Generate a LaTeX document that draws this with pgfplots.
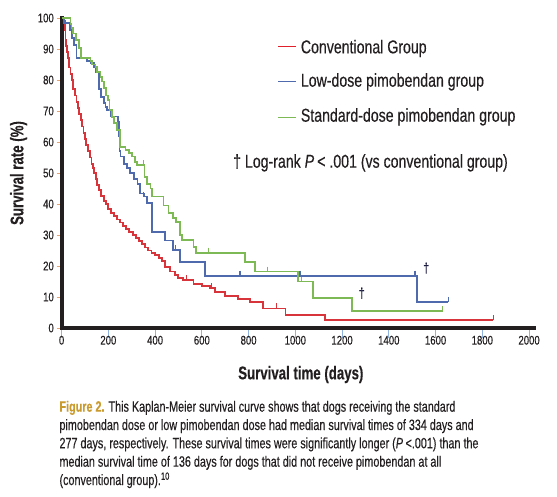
\documentclass[border=0pt]{standalone}
\usepackage{pgfplots}
\pgfplotsset{compat=1.18}
\usepackage{fontspec}
\setmainfont{Liberation Sans}[FakeStretch=0.76, FakeBold=0.35]
\newfontfamily\condb{Liberation Sans}[FakeStretch=0.72, FakeBold=0.35]
\definecolor{cred}{HTML}{D8343C}
\definecolor{lred}{HTML}{E0202A}
\definecolor{cblue}{HTML}{4F6AAD}
\definecolor{cgreen}{HTML}{7DBA55}
\definecolor{gold}{HTML}{C99A2E}
\definecolor{txt}{HTML}{231F20}
\definecolor{tickblue}{HTML}{8FB4E0}
\definecolor{tickorange}{HTML}{E8A26A}
\definecolor{dag}{HTML}{1A1A40}
\begin{document}
\begin{tikzpicture}[x=1pt,y=1pt]
\useasboundingbox (0,0) rectangle (557,496);
\begin{axis}[
  at={(61.6pt,168pt)}, anchor=origin,
  scale only axis, width=472.4pt, height=310pt,
  xmin=0, xmax=2021, ymin=0, ymax=100,
  axis x line=bottom, axis y line=left,
  axis line style={-, line width=4pt, draw=txt, line cap=rect},
  every outer x axis line/.append style={line width=4pt},
  every outer y axis line/.append style={line width=4pt},
  xtick={0,200,...,2000}, ytick={0,10,...,100},
  tick align=outside,
  x tick style={draw=tickblue, line width=0.8pt, /pgfplots/major tick length=10pt},
  y tick style={draw=tickorange, line width=0.6pt, /pgfplots/major tick length=5pt},
  tick label style={font=\fontsize{12.6}{14}\selectfont, text=txt},
  /pgf/number format/assume math mode=true,
  /pgf/number format/1000 sep={},
  xlabel={Survival time (days)},
  ylabel={Survival rate (\%)},
  xlabel style={font=\condb\bfseries\fontsize{18.4}{20}\selectfont, text=txt, at={(axis description cs:0.5064,-0.1655)}, anchor=base},
  ylabel style={font=\condb\bfseries\fontsize{18.4}{20}\selectfont, text=txt, at={(axis description cs:-0.081,0.5)}, anchor=base},
  clip=false,
  every axis plot/.append style={line width=1.8pt, line join=miter},
]
% Conventional group
\addplot[cred, const plot] coordinates {
(0,100) (10,99) (14,96) (17,93) (20,91) (24,89) (28,87) (33,84) (38,82) (43,80) (50,77) (57,75) (64,73) (70,71) (76,69) (82,67) (88,65) (94,63) (100,61) (106,59) (112,57) (120,55) (128,53) (134,51.5) (140,50) (146,48) (153,46) (160,44.5) (170,42.5) (180,41) (190,40) (200,38.5) (212,37) (225,36) (238,35) (250,34) (262,33) (275,32) (290,31) (305,30) (318,29) (332,28) (345,27) (358,26) (368,25) (385,24.3) (400,23.5) (415,22.5) (428,21.5) (442,19.8) (464,18.2) (485,17.1) (499,16.2) (521,15.5) (564,14.1) (600,13.6) (635,12.8) (656,11.7) (699,10.4) (756,9.3) (806,8.5) (860,6.3) (958,4.2) (1127,2.5) (1847,2.5)};
% Low-dose
\addplot[cblue, const plot] coordinates {
(0,100) (10,98.4) (35,96) (45,93.5) (54,91.4) (64,87) (107,86) (124,85.4) (140,84) (145,82.7) (159,77) (170,74.5) (180,72.5) (188,71.4) (195,70.3) (209,68.2) (240,66.5) (245,62) (248,57) (252,55.3) (266,53) (280,51.5) (294,50) (310,48) (325,46.5) (337,43.4) (355,42.4) (365,40.2) (387,31) (443,28.2) (475,25.2) (507,21.4) (614,16.9) (1519,8.4) (1655,8.4)};
% Standard-dose
\addplot[cgreen, const plot] coordinates {
(0,100) (35,100) (38,98) (42,96.8) (50,95) (62,93) (73,90.3) (83,87) (124,86) (131,85) (145,84.3) (152,82.7) (166,81) (174,79.5) (182,77.3) (190,75) (197,73.5) (205,70.3) (215,68) (223,66) (237,63.9) (250,58.5) (273,57.4) (290,56.5) (301,55.3) (315,53.5) (323,52.6) (355,48.8) (365,46.5) (380,45) (387,42.4) (436,39.5) (457,37) (475,35.4) (490,34.3) (507,30) (515,28.4) (564,26.2) (575,24.3) (785,21.2) (827,18.2) (1013,15) (1074,9.8) (1244,5.4) (1631,5.4)};
% censored marks
\addplot[cred, only marks, mark=|, mark size=2.5pt, mark options={line width=1.3pt, yshift=2.5pt}] coordinates {(535,15.5) (642,12.8) (920,6.3) (1847,2.5)};
\addplot[cblue, only marks, mark=|, mark size=2.5pt, mark options={line width=1.3pt, yshift=2.5pt}] coordinates {(351,42.4) (443,28.2) (486,25.2) (763,16.9) (1020,16.9) (1512,16.9) (1655,8.4)};
\addplot[cgreen, only marks, mark=|, mark size=2.5pt, mark options={line width=1.3pt, yshift=2.5pt}] coordinates {(351,52.6) (628,24.3) (880,18.2) (1027,15) (1631,5.4)};
\node[text=dag, font=\fontsize{14}{14}\selectfont] at (axis cs:1560,19.3) {†};
\node[text=dag, font=\fontsize{14}{14}\selectfont] at (axis cs:1284,11.2) {†};
\end{axis}
% legend
\draw[lred, line width=1.4pt] (278.3,449.3) -- (296,449.3);
\draw[cblue, line width=1.4pt] (278.3,414.3) -- (296,414.3);
\draw[cgreen, line width=1.4pt] (278.3,378.3) -- (296,378.3);
\begin{scope}[every node/.style={inner sep=0pt, anchor=base west, text=txt, font=\fontsize{18.6}{20}\selectfont}]
\node at (300.7,442.7) {Conventional Group};
\node at (300.7,409.3) {Low-dose pimobendan group};
\node at (300.7,374.3) {Standard-dose pimobendan group};
\node at (233,328.3) {† Log-rank \textit{P}\,< .001 (vs conventional group)};
\end{scope}
% caption
\begin{scope}[every node/.style={inner sep=0pt, anchor=base west, text=txt, font=\condb\fontsize{15}{18}\selectfont}]
\node at (59.3,84.3) {{\bfseries\color{gold}Figure 2.} This Kaplan-Meier survival curve shows that dogs receiving the standard};
\node at (59.3,66) {pimobendan dose or low pimobendan dose had median survival times of 334 days and};
\node at (59.3,47.7) {277 days, respectively. These survival times were significantly longer (\textit{P}\,<.001) than the};
\node at (59.3,29.3) {median survival time of 136 days for dogs that did not receive pimobendan at all};
\node at (59.3,11) {(conventional group).\textsuperscript{10}};
\end{scope}
\end{tikzpicture}
\end{document}
